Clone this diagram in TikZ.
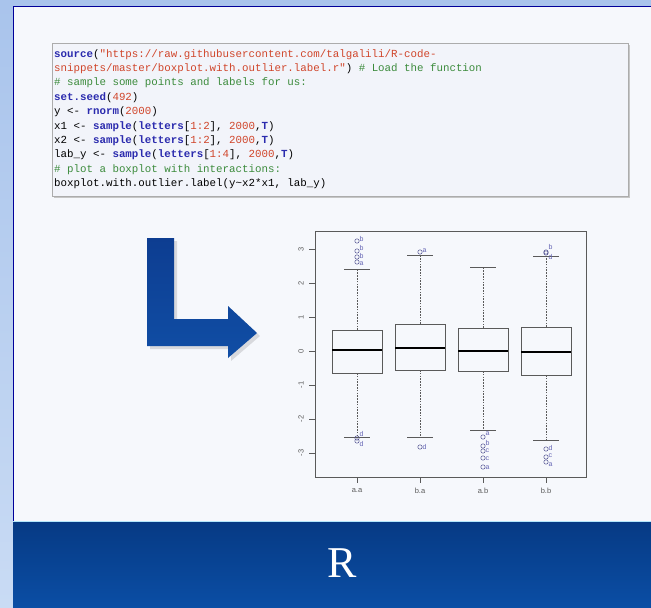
\documentclass[tikz,border=0pt]{standalone}
\usepackage{xcolor}
\usepackage{fontspec}
\setmainfont{Liberation Serif}
\setsansfont{Liberation Sans}
\setmonofont{Liberation Mono}
\usepackage{tikz}

\definecolor{rfnblue}{HTML}{2B2BAE}
\definecolor{rstrred}{HTML}{D0452A}
\definecolor{rcomgreen}{HTML}{3C8B3C}
\definecolor{panelbg}{HTML}{F6F8FC}
\definecolor{codebg}{HTML}{F2F4FA}
\definecolor{outlab}{HTML}{6464B4}
\definecolor{axisgray}{HTML}{5A5A5A}
\definecolor{sidetop}{HTML}{A9C4EC}
\definecolor{sidebot}{HTML}{C9DBF4}
\definecolor{bandtop}{HTML}{063A84}
\definecolor{bandbot}{HTML}{0B4EA5}

\newcommand{\rfn}[1]{\textcolor{rfnblue}{\bfseries #1}}
\newcommand{\rstr}[1]{\textcolor{rstrred}{#1}}
\newcommand{\rcom}[1]{\textcolor{rcomgreen}{#1}}

\tikzset{
  codeline/.style={anchor=base west, inner sep=0pt,
    font=\ttfamily\fontsize{10.8}{13}\selectfont},
  ticklab/.style={font=\sffamily\fontsize{7.5}{8}\selectfont, text=axisgray, inner sep=0pt},
  outpt/.style={draw=outlab!80!black, line width=0.5pt},
  outtxt/.style={font=\sffamily\fontsize{7}{8}\selectfont, text=outlab, inner sep=0pt, anchor=west},
  boxline/.style={draw=axisgray, line width=0.8pt},
  whisk/.style={draw=axisgray, line width=0.6pt, dash pattern=on 1.6pt off 1.2pt}
}

\begin{document}
\begin{tikzpicture}[x=1pt, y=-1pt]
\useasboundingbox (0,0) rectangle (651,608);

% background
\shade[top color=sidetop, bottom color=sidebot] (0,0) rectangle (651,608);
\fill[panelbg] (13,6.5) rectangle (651,521);
\draw[color=blue!60!black, line width=1pt] (13,521) -- (13,6.5) -- (651,6.5);
\shade[top color=bandtop, bottom color=bandbot] (13,521) rectangle (651,608);
\draw[color=cyan!30!white, line width=0.8pt] (13,521) -- (651,521);
\node[text=white, font=\fontsize{44}{48}\selectfont] (rtitle) at (342,563) {R};

% code box
\fill[gray!45] (54,45) rectangle (630,198);
\draw[draw=gray!65, fill=codebg, line width=0.8pt] (52,43) rectangle (628,196);
\node[codeline] (codeln1) at (54,57.0) {\rfn{source}(\rstr{"https://raw.githubusercontent.com/talgalili/R-code-}};
\node[codeline] (codeln2) at (54,71.4) {\rstr{snippets/master/boxplot.with.outlier.label.r"}) \rcom{\# Load the function}};
\node[codeline] (codeln3) at (54,85.8) {\rcom{\# sample some points and labels for us:}};
\node[codeline] (codeln4) at (54,100.2) {\rfn{set.seed}(\rstr{492})};
\node[codeline] (codeln5) at (54,114.6) {y <- \rfn{rnorm}(\rstr{2000})};
\node[codeline] (codeln6) at (54,129.0) {x1 <- \rfn{sample}(\rfn{letters}[\rstr{1:2}], \rstr{2000},\rfn{T})};
\node[codeline] (codeln7) at (54,143.4) {x2 <- \rfn{sample}(\rfn{letters}[\rstr{1:2}], \rstr{2000},\rfn{T})};
\node[codeline] (codeln8) at (54,157.8) {lab\_y <- \rfn{sample}(\rfn{letters}[\rstr{1:4}], \rstr{2000},\rfn{T})};
\node[codeline] (codeln9) at (54,172.2) {\rcom{\# plot a boxplot with interactions:}};
\node[codeline] (codeln10) at (54,186.6) {boxplot.with.outlier.label(y\textasciitilde x2*x1, lab\_y)};

% L arrow
\fill[black, opacity=0.12] (150,241) -- (177,241) -- (177,322) -- (231,322) -- (231,309) -- (260,336)
  -- (231,361) -- (231,349) -- (150,349) -- cycle;
\shade[top color={rgb,255:red,13;green,61;blue,145}, bottom color={rgb,255:red,16;green,78;blue,165}]
  (147,238) -- (174,238) -- (174,319) -- (228,319) -- (228,306) -- (257,333)
  -- (228,358) -- (228,346) -- (147,346) -- cycle;

% plot frame and axes
\draw[boxline] (315,231) rectangle (586,477);
\foreach \v/\yy in {3/249, 2/283, 1/317, 0/351, -1/385, -2/419, -3/453} {
  \draw[boxline, line width=0.6pt] (315,\yy) -- (309,\yy);
  \node[ticklab, rotate=90] (ytick\yy) at (301,\yy) {\v};
}

% boxes: x / box top / median / box bottom / lower whisker / upper whisker / label
\foreach \x/\bt/\md/\bb/\lo/\hi/\lab in {357/330/350/373/437/269/a.a, 420/324/348/370/437/255/b.a,
    483/328/351/371/430/267/a.b, 546/327/352/375/440/256/b.b} {
  \draw[whisk] (\x,\bt) -- (\x,\hi);
  \draw[whisk] (\x,\bb) -- (\x,\lo);
  \draw[boxline] (\x-13,\hi) -- (\x+13,\hi);
  \draw[boxline] (\x-13,\lo) -- (\x+13,\lo);
  \draw[boxline, fill=panelbg] (\x-25,\bt) rectangle (\x+25,\bb);
  \draw[draw=black, line width=1.8pt] (\x-25,\md) -- (\x+25,\md);
  \draw[boxline, line width=0.6pt] (\x,477) -- (\x,483);
  \node[ticklab] (xtick\x) at (\x,491) {\lab};
}

% outliers: x / point y / label y / label
\foreach \x/\y/\ly/\t in {357/241/239/b, 357/251/248/b, 357/257/256/b, 357/262/264/a,
    357/438/434/d, 357/441/444/d,
    420/252/251/a, 420/447/447/d,
    483/437/434/a, 483/446/443/b, 483/451/451/c, 483/458/459/c, 483/467/468/a,
    546/252/247/b, 546/253/257/d, 546/449/448/d, 546/457/456/c, 546/462/465/a} {
  \draw[outpt] (\x,\y) circle (2.2pt);
  \node[outtxt] at (\x+2.5,\ly) {\t};
}
\end{tikzpicture}
\end{document}
